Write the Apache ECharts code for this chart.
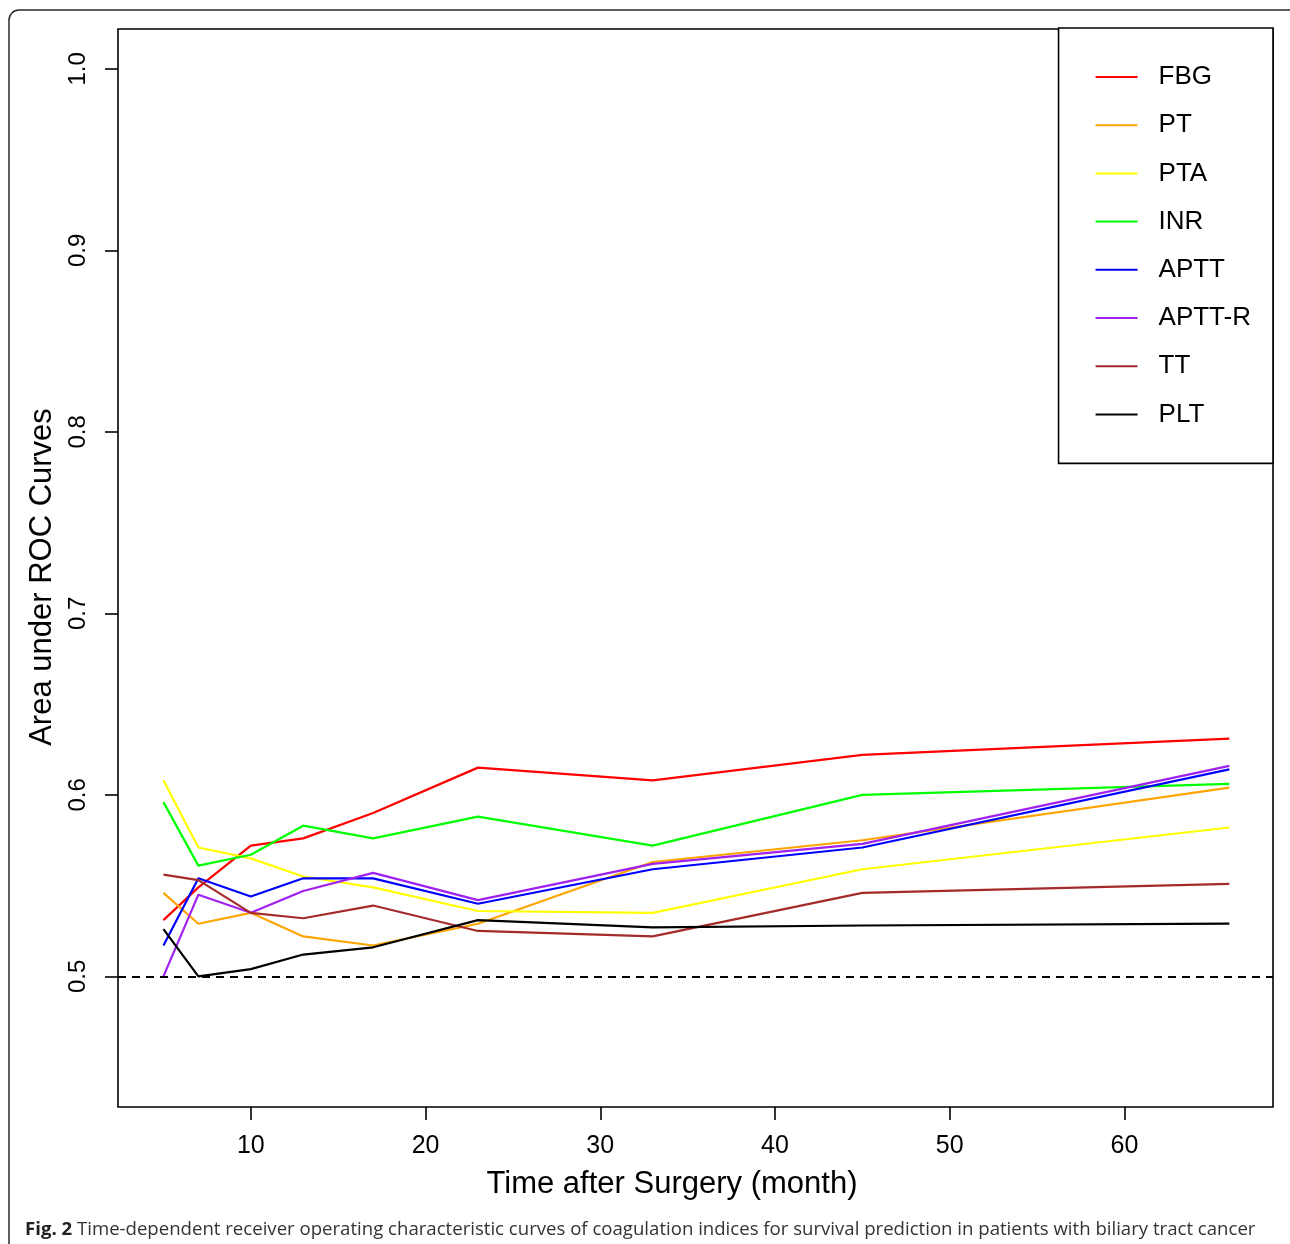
<!DOCTYPE html>
<html>
<head>
<meta charset="utf-8">
<title>Time-dependent ROC curves of coagulation indices</title>
<script src="https://cdn.jsdelivr.net/npm/echarts@6/dist/echarts.min.js"></script>
<style>
  html, body { margin: 0; padding: 0; background: #ffffff; }
  #chart { width: 1290px; height: 1244px; }
</style>
</head>
<body>
<div id="chart"></div>
<script>
// Follow-up time points (months after surgery)
const months = [5, 7, 10, 13, 17, 23, 33, 45, 66];

// Time-dependent AUC for each coagulation index
const FBG   = [0.531, 0.549, 0.572, 0.576, 0.590, 0.615, 0.608, 0.622, 0.631];
const PT    = [0.546, 0.529, 0.535, 0.522, 0.517, 0.529, 0.563, 0.575, 0.604];
const PTA   = [0.608, 0.571, 0.565, 0.555, 0.549, 0.536, 0.535, 0.559, 0.582];
const INR   = [0.596, 0.561, 0.567, 0.583, 0.576, 0.588, 0.572, 0.600, 0.606];
const APTT  = [0.517, 0.554, 0.544, 0.554, 0.554, 0.540, 0.559, 0.571, 0.614];
const APTTR = [0.500, 0.545, 0.535, 0.547, 0.557, 0.542, 0.562, 0.573, 0.616];
const TT    = [0.556, 0.553, 0.535, 0.532, 0.539, 0.525, 0.522, 0.546, 0.551];
const PLT   = [0.526, 0.500, 0.504, 0.512, 0.516, 0.531, 0.527, 0.528, 0.529];

const seriesNames = ['FBG', 'PT', 'PTA', 'INR', 'APTT', 'APTT-R', 'TT', 'PLT'];
const seriesValues = [FBG, PT, PTA, INR, APTT, APTTR, TT, PLT];
const seriesColors = ['#ff0000', '#ffa500', '#ffff00', '#00ff00', '#0000ff', '#a020f0', '#a52a2a', '#000000'];

// Axis ticks
const xTicks = [10, 20, 30, 40, 50, 60];
const yTicks = [0.5, 0.6, 0.7, 0.8, 0.9, 1.0];
const referenceAUC = 0.5;

const xTitle = 'Time after Surgery (month)';
const yTitle = 'Area under ROC Curves';
const captionLabel = 'Fig. 2';
const captionText = 'Time-dependent receiver operating characteristic curves of coagulation indices for survival prediction in patients with biliary tract cancer';

const FONT = '"Liberation Sans", Arial, Helvetica, sans-serif';

const chart = echarts.init(document.getElementById('chart'), null, { renderer: 'canvas' });

const series = seriesNames.map((name, k) => {
  const s = {
    name: name,
    type: 'line',
    data: months.map((m, i) => [m, seriesValues[k][i]]),
    showSymbol: false,
    symbol: 'none',
    color: seriesColors[k],
    lineStyle: { color: seriesColors[k], width: 2.2 },
    z: 3,
    animation: false
  };
  if (k === 0) {
    // chance-level reference line
    s.markLine = {
      silent: true,
      symbol: ['none', 'none'],
      label: { show: false },
      lineStyle: { color: '#000', width: 2, type: [8, 6], opacity: 1 },
      emphasis: { disabled: true },
      data: [{ yAxis: referenceAUC }],
      animation: false
    };
  }
  return s;
});

const option = {
  backgroundColor: '#ffffff',
  animation: false,
  grid: {
    left: 118, top: 29, right: 17, bottom: 137,
    show: true, borderColor: '#000', borderWidth: 1.6, backgroundColor: 'transparent'
  },
  xAxis: {
    type: 'value',
    min: 2.4, max: 68.5,
    axisLine: { show: false },
    splitLine: { show: false },
    axisTick: {
      show: true, inside: false, length: 13, customValues: xTicks,
      lineStyle: { color: '#000', width: 1.6 }
    },
    axisLabel: {
      customValues: xTicks, margin: 27,
      color: '#000', fontFamily: FONT, fontSize: 25
    }
  },
  yAxis: {
    type: 'value',
    min: 0.428, max: 1.022,
    axisLine: { show: false },
    splitLine: { show: false },
    axisTick: {
      show: true, inside: false, length: 13, customValues: yTicks,
      lineStyle: { color: '#000', width: 1.6 }
    },
    axisLabel: {
      customValues: yTicks, rotate: 90, margin: 28,
      color: '#000', fontFamily: FONT, fontSize: 24,
      formatter: v => v.toFixed(1)
    }
  },
  legend: {
    data: seriesNames,
    orient: 'vertical',
    right: 17, top: 28,
    padding: [36, 22, 36, 37],
    itemGap: 22.2,
    itemWidth: 42, itemHeight: 2,
    icon: 'rect',
    borderColor: '#000', borderWidth: 1.6,
    backgroundColor: '#ffffff',
    textStyle: {
      color: '#000', fontFamily: FONT, fontSize: 26, lineHeight: 26,
      padding: [0, 0, 0, 16]
    }
  },
  graphic: [
    {
      type: 'rect', z: -1, silent: true,
      shape: { x: 9, y: 10, width: 1300, height: 1270, r: 10 },
      style: { fill: 'none', stroke: '#2a2a2a', lineWidth: 1.5 }
    },
    {
      type: 'text', silent: true,
      x: 672, y: 1184,
      style: {
        text: xTitle, fill: '#000', font: '31px ' + FONT,
        align: 'center', verticalAlign: 'middle'
      }
    },
    {
      type: 'text', silent: true,
      x: 42, y: 577, rotation: Math.PI / 2,
      style: {
        text: yTitle, fill: '#000', font: '31px ' + FONT,
        align: 'center', verticalAlign: 'middle'
      }
    },
    {
      type: 'text', silent: true,
      x: 25, y: 1230,
      style: {
        text: '{b|' + captionLabel + '} ' + captionText,
        fill: '#333',
        fontFamily: '"Open Sans", "Noto Sans", sans-serif',
        fontSize: 18.6,
        align: 'left', verticalAlign: 'middle',
        rich: {
          b: {
            fontFamily: '"Open Sans", "Noto Sans", sans-serif',
            fontSize: 18.6, fontWeight: 'bold', fill: '#222'
          }
        }
      }
    }
  ],
  series: series
};

chart.setOption(option);
</script>
</body>
</html>
